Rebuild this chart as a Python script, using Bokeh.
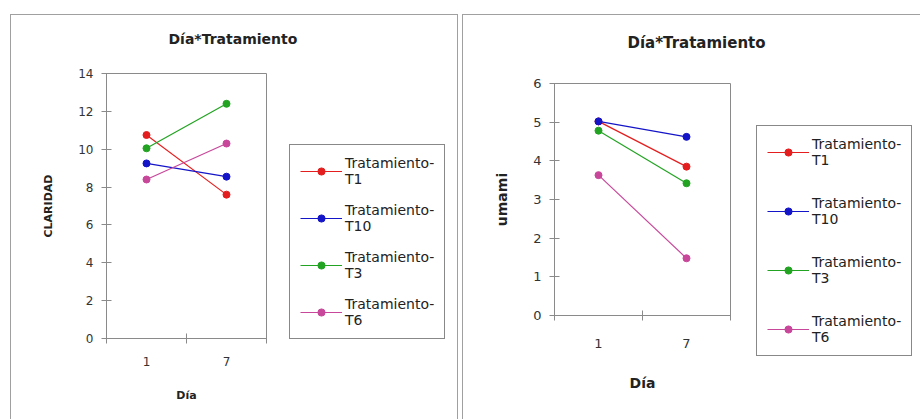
from bokeh.plotting import figure
from bokeh.models import (Range1d, LinearAxis, FixedTicker,
                          Legend, LegendItem, Title, Div)
from bokeh.embed import file_html
from bokeh.resources import INLINE

# ---------------- data ----------------
dias = ["1", "7"]
tratamientos = ["Tratamiento-\nT1", "Tratamiento-\nT10", "Tratamiento-\nT3", "Tratamiento-\nT6"]
colores = ["#e41e1e", "#1414c8", "#22a322", "#c8479a"]

claridad_t1 = [10.75, 7.6]
claridad_t10 = [9.25, 8.55]
claridad_t3 = [10.05, 12.4]
claridad_t6 = [8.4, 10.3]
claridad_ticks = [0, 2, 4, 6, 8, 10, 12, 14]

umami_t1 = [5.02, 3.85]
umami_t10 = [5.02, 4.62]
umami_t3 = [4.78, 3.42]
umami_t6 = [3.63, 1.48]
umami_ticks = [0, 1, 2, 3, 4, 5, 6]

FONT = "DejaVu Sans"
AX = "#8a8a8a"
TXT = "#333333"

# category slots: each day occupies one unit, centred at i + 0.5
dia_pos = [i + 0.5 for i in range(len(dias))]
dia_edges = list(range(len(dias) + 1))


def make_panel(series, ylabel, yticks, FW, FH, bl, bt, t_off, t_stand, t_fs,
               leg_loc, fs, lab_fs, leg_fs, pad, spacing, styles,
               ylab_stand, ytick_stand, xtick_stand, xlab_stand):
    p = figure(x_range=Range1d(0, len(dias)), y_range=Range1d(yticks[0], yticks[-1]),
               frame_width=FW, frame_height=FH,
               output_backend="svg", toolbar_location=None,
               x_axis_location=None, y_axis_location=None,
               min_border_left=bl, min_border_right=0,
               min_border_top=bt, min_border_bottom=0,
               outline_line_color=AX, outline_line_width=1,
               background_fill_color="white", border_fill_color=None)
    p.styles = styles

    # y axis
    yax = LinearAxis(ticker=FixedTicker(ticks=yticks), axis_label=ylabel,
                     axis_line_color=AX, major_tick_line_color=AX,
                     major_tick_in=5, major_tick_out=5,
                     minor_tick_line_color=None,
                     major_label_text_font=FONT, major_label_text_font_size=fs,
                     major_label_text_color=TXT,
                     major_label_standoff=ytick_stand,
                     axis_label_text_font=FONT, axis_label_text_font_size=lab_fs,
                     axis_label_text_font_style="bold",
                     axis_label_text_color="#222222",
                     axis_label_standoff=ylab_stand)
    p.add_layout(yax, "left")

    # x axis: labels at category centres, tick marks on category boundaries
    xax = LinearAxis(ticker=FixedTicker(ticks=dia_pos, minor_ticks=dia_edges),
                     major_label_overrides={x: d for x, d in zip(dia_pos, dias)},
                     axis_line_color=AX, major_tick_line_color=None,
                     major_tick_in=0, major_tick_out=5,
                     minor_tick_line_color=AX, minor_tick_in=5, minor_tick_out=5,
                     major_label_text_font=FONT, major_label_text_font_size=fs,
                     major_label_text_color=TXT,
                     major_label_standoff=xtick_stand,
                     axis_label="Día", axis_label_text_font=FONT,
                     axis_label_text_font_size=lab_fs,
                     axis_label_text_font_style="bold",
                     axis_label_text_color="#222222",
                     axis_label_standoff=xlab_stand)
    p.add_layout(xax, "below")
    p.grid.visible = False

    p.add_layout(Title(text="Día*Tratamiento", align="left", offset=t_off,
                       standoff=t_stand, text_font=FONT, text_font_size=t_fs,
                       text_font_style="bold", text_color="#222222"), "above")

    items = []
    for name, vals, col in zip(tratamientos, series, colores):
        lr = p.line(dia_pos, vals, line_color=col, line_width=1.2)
        sr = p.scatter(dia_pos, vals, size=7, fill_color=col, line_color=col)
        items.append(LegendItem(label=name, renderers=[lr, sr]))

    leg = Legend(items=items, location=leg_loc, border_line_color="#111111",
                 border_line_width=1, background_fill_color="white",
                 background_fill_alpha=1, glyph_width=42, glyph_height=18,
                 label_standoff=3, padding=pad, spacing=spacing, margin=0,
                 label_text_font=FONT, label_text_font_size=leg_fs,
                 label_text_color="#222222")
    p.add_layout(leg, "right")
    return p


p1 = make_panel([claridad_t1, claridad_t10, claridad_t3, claridad_t6],
                "CLARIDAD", claridad_ticks, 160, 265, 96, 80, 62, 53, "14px",
                (23, -1), "12px", "11px", "14px", 10, 15,
                {"position": "absolute", "left": "10px", "top": "-7px"},
                20, 8, 13, 20)
p2 = make_panel([umami_t1, umami_t10, umami_t3, umami_t6],
                "umami", umami_ticks, 176, 232, 92, 90, 73, 64, "15px",
                (26, -41), "13px", "14px", "14px", 10, 27,
                {"position": "absolute", "left": "462px", "top": "-7px"},
                20, 8, 18, 24)

d1 = Div(text="", width=448, height=420, margin=0,
         styles={"position": "absolute", "left": "10px", "top": "14px",
                 "border": "1px solid #a0a0a0", "background": "transparent"})
d2 = Div(text="", width=470, height=420, margin=0,
         styles={"position": "absolute", "left": "462px", "top": "14px",
                 "border": "1px solid #a0a0a0", "background": "transparent"})

html = file_html([p1, p2, d1, d2], INLINE)
html = html.replace("<body>", '<body style="margin:0; overflow:hidden;">', 1)
open("out.html", "w").write(html)
